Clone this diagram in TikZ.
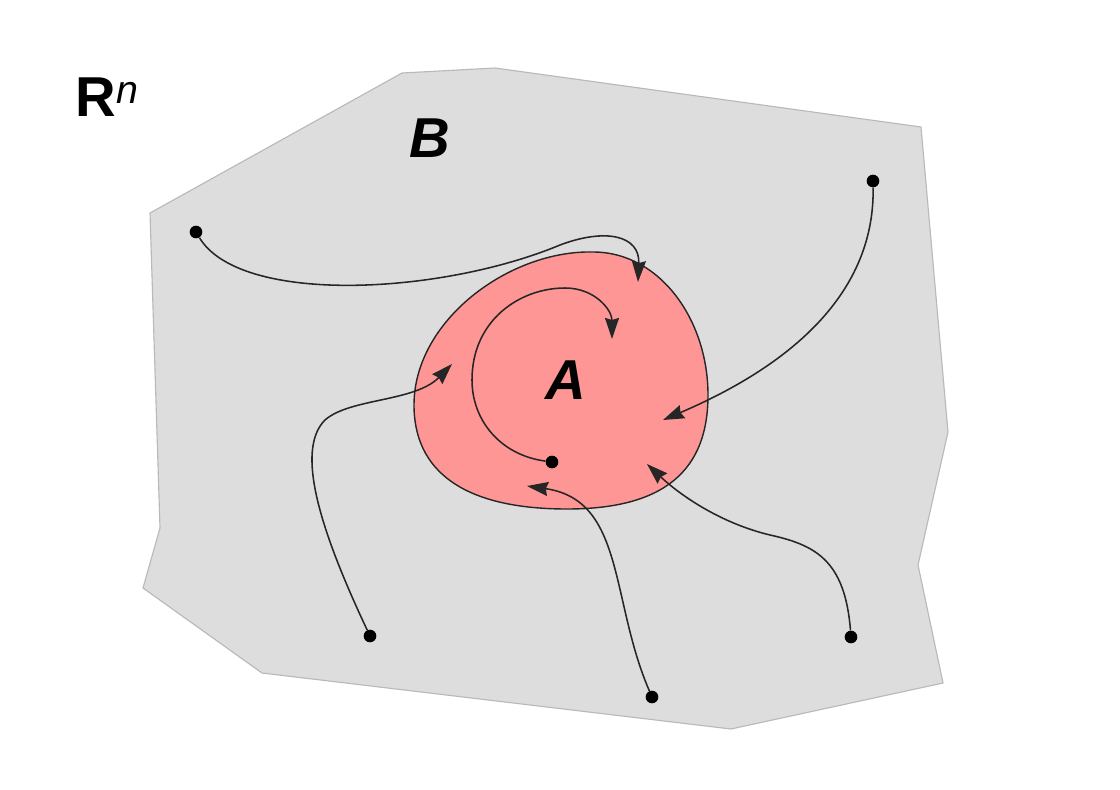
\documentclass[tikz,border=0pt]{standalone}
\usepackage{fontspec}
\setmainfont{Liberation Sans}
\usetikzlibrary{arrows.meta,positioning}

\definecolor{regionB}{RGB}{221,221,221}
\definecolor{edgeB}{RGB}{185,185,185}
\definecolor{regionA}{RGB}{255,150,150}

\begin{document}
\begin{tikzpicture}[x=0.025cm,y=-0.025cm,
		start/.style={circle,fill=black,inner sep=0pt,minimum size=9pt},
		flow/.style={line width=1.1pt,draw=black!85,-{Stealth[length=15pt,width=10pt,inset=1.5pt]}},
		setname/.style={font=\fontsize{40}{40}\selectfont\bfseries\itshape}]
			%\draw[help lines] (0,0) grid[step=100] (1120,790);
			\useasboundingbox[fill=white] (0,0) rectangle (1120,790);

			% the set B
			\filldraw[fill=regionB,draw=edgeB,line width=0.8pt]
				(150,213) -- (402,73) -- (495,68) -- (921,127) -- (948,432) -- (918,565)
				-- (943,683) -- (731,729) -- (262,673) -- (143,588) -- (160,528) -- cycle;

			% the set A
			\filldraw[fill=regionA,draw=black!85,line width=1pt]
				(593,252) .. controls (660,252) and (708,320) .. (708,395)
				.. controls (708,470) and (665,509) .. (567,509)
				.. controls (462,509) and (414,470) .. (414,405)
				.. controls (414,320) and (510,250) .. cycle;

			\node (rn) at (107,97) {\fontsize{40}{40}\selectfont\bfseries R\textsuperscript{\mdseries\itshape n}};
			\node[setname] (b) at (430,138) {B};
			\node[setname] (a) at (566,380) {A};

			\node[start] (s1) at (196,232) {};
			\node[start] (s2) at (873,181) {};
			\node[start] (s3) at (552,462) {};
			\node[start] (s4) at (370,636) {};
			\node[start] (s5) at (652,697) {};
			\node[start] (s6) at (851,637) {};

			\coordinate (e1) at (638,282);
			\coordinate (e2) at (663,420);
			\coordinate (e3) at (612,339);
			\coordinate (e4) at (452,364);
			\coordinate (e5) at (527,486);
			\coordinate (e6) at (647,464);

			\draw[flow] (s1) .. controls (240,305) and (440,295) .. (560,245)
				.. controls (605,228) and (640,235) .. (e1);
			\draw[flow] (s2) .. controls (875,300) and (780,370) .. (e2);
			\draw[flow] (s3) .. controls (500,455) and (472,420) .. (472,380)
				.. controls (472,320) and (520,288) .. (565,288)
				.. controls (595,288) and (612,310) .. (e3);
			\draw[flow] (s4) .. controls (320,530) and (295,450) .. (325,420)
				.. controls (350,398) and (415,402) .. (e4);
			\draw[flow] (s5) .. controls (610,600) and (625,500) .. (e5);
			\draw[flow] (s6) .. controls (845,560) and (815,545) .. (770,535)
				.. controls (720,523) and (680,495) .. (e6);
		\end{tikzpicture}
\end{document}
